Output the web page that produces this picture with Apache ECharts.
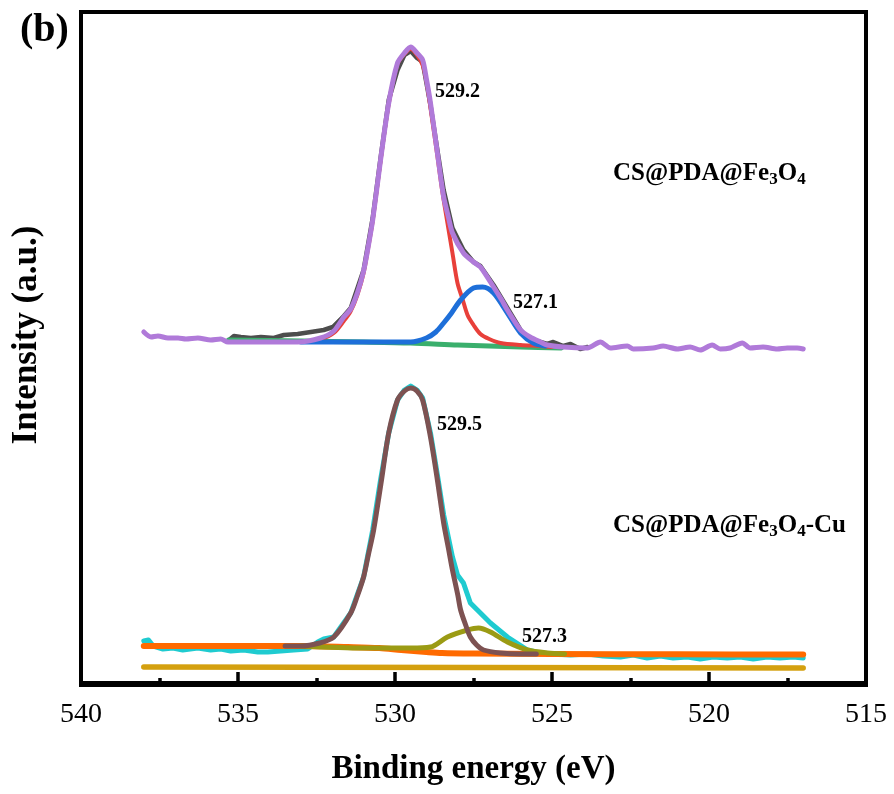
<!DOCTYPE html>
<html>
<head>
<meta charset="utf-8">
<script src="https://cdn.jsdelivr.net/npm/echarts@6/dist/echarts.min.js"></script>
<style>html,body{margin:0;padding:0;background:#fff;}#c{width:894px;height:794px;}</style>
</head>
<body>
<div id="c"></div>
<script>
// ---- Data (binding energy in eV, intensity in arbitrary units) ----
var xTicks = [540, 535, 530, 525, 520, 515];

// Upper sample: CS@PDA@Fe3O4
var topRawE = [535.32,535.13,534.91,534.59,534.27,533.86,533.54,533.1,532.68,532.27,531.98,531.63,531.41,531.0,530.71,530.46,530.2,529.92,529.7,529.5,529.3,529.12,528.87,528.65,528.45,528.17,527.82,527.5,527.28,526.86,526.42,526.0,525.78,525.59,525.37,525.15,524.96,524.64,524.41,524.1,523.87];
var topRawI = [342,347,346,345,346,345,348,349,351,353,356,367,375,413,465,525,583,613,628,632,625,621,578,533,493,455,433,421,417,398,375,353,345,343,341,339,341,337,339,334,336];

var topEnvE = [538.0,537.77,537.55,537.23,536.91,536.66,536.28,535.87,535.55,535.32,534.18,533.1,532.37,531.95,531.63,531.41,531.2,531.0,530.85,530.71,530.46,530.2,529.92,529.7,529.5,529.3,529.12,529.0,528.87,528.65,528.45,528.3,528.17,527.82,527.5,527.28,526.86,526.6,526.42,526.0,525.7,525.37,525.15,524.64,523.87,523.46,523.14,522.6,522.41,521.78,521.46,521.01,520.6,520.28,519.9,519.64,519.33,518.94,518.69,518.28,517.83,517.51,517.19,517.0];
var topEnvI = [351,346,347,345,345,344,345,343,344,341,341,341,345,352,366,374,390,412,437,463,523,580,620,630,636,630,623,604,580,530,486,466,450,430,421,416,396,383,373,353,346,341,338,336,335,341,335,337,334,335,337,334,336,333,338,334,335,340,335,336,334,335,335,334];

var topPeak1E = [535.32,533.1,532.37,531.95,531.63,531.41,531.2,531.0,530.85,530.71,530.46,530.2,529.92,529.7,529.5,529.3,529.12,529.0,528.87,528.65,528.5,528.33,528.17,528.01,527.85,527.69,527.5,527.28,527.0,526.64,526.0,525.37,525.0];
var topPeak1I = [341,341,344,350,362,372,388,410,436,462,522,579,619,629,634,628,618,602,575,527,493,460,430,400,384,368,358,349,344,340,338,337,336];

var topPeak2E = [533.0,531.0,529.5,529.0,528.7,528.45,528.2,527.91,527.5,527.21,526.86,526.42,526.0,525.59,525.2];
var topPeak2I = [341,341,341,345,351,360,370,383,395,396,390,370,350,340,337];

var topBaseE = [535.3,533.0,531.0,529.5,528.0,527.0,526.0,524.7];
var topBaseI = [343,342,341,340,338,337,336,335];

// Lower sample: CS@PDA@Fe3O4-Cu
var botRawE = [538.0,537.85,537.7,537.39,537.07,536.76,536.28,535.87,535.55,535.23,534.82,534.37,534.05,533.64,533.23,532.78,532.46,532.27,531.95,531.41,531.0,530.71,530.46,530.2,529.92,529.7,529.5,529.3,529.12,528.87,528.65,528.45,528.17,528.01,527.82,527.6,527.28,526.96,526.42,525.78,525.37,524.96,524.41,523.87,523.37,522.82,522.41,521.97,521.55,521.14,520.69,520.28,519.87,519.42,519.01,518.59,518.15,517.74,517.32,517.0];
var botRawI = [42,43,37,34,35,33,35,33,34,32,33,31,31,32,33,34,41,44,46,70,106,153,203,250,283,293,297,293,285,250,208,168,126,108,100,80,70,60,46,33,30,29,28,29,27,26,28,25,27,25,26,24,26,25,26,24,26,25,26,25];

var botPeak1E = [533.5,533.0,532.4,531.95,531.41,531.2,531.0,530.85,530.68,530.43,530.2,529.92,529.7,529.5,529.3,529.12,528.87,528.65,528.45,528.3,528.17,528.0,527.91,527.75,527.6,527.4,527.18,526.64,526.0,525.5];
var botPeak1I = [37,37,40,46,70,87,106,128,153,203,250,283,292,295,292,283,246,203,160,135,113,88,73,58,46,38,33,30,29,29];

var botPeak2E = [533.0,531.0,529.5,528.87,528.33,527.69,527.34,526.96,526.42,525.78,525.15,524.6];
var botPeak2I = [37,35,35,36,46,53,55,51,41,33,30,29];

var botBaseE = [538.0,533.0,531.5,530.5,529.8,529.0,528.5,527.5,525.0,521.0,517.0];
var botBaseI = [37,37,36,35,33,31,30,29.5,29,28.7,28.5];

var floorE = [538.0, 517.0];
var floorI = [16, 15];

// ---- Chart ----
function zip(a, b) { return a.map(function (v, i) { return [v, b[i]]; }); }
var serif = 'Liberation Serif, Times New Roman, serif';

function line(name, e, i, color, width, smooth, z) {
  return {
    name: name, type: 'line', data: zip(e, i), showSymbol: false, symbol: 'none',
    smooth: smooth, z: z, lineStyle: { color: color, width: width, cap: 'round', join: 'round' },
    animation: false, silent: true
  };
}

var chart = echarts.init(document.getElementById('c'), null, { renderer: 'canvas' });
chart.setOption({
  backgroundColor: '#fff',
  animation: false,
  grid: { left: 81, right: 28, top: 12, bottom: 109, show: true, borderColor: '#000', borderWidth: 4, backgroundColor: 'transparent' },
  xAxis: {
    type: 'value', min: 515, max: 540, interval: 5, inverse: true,
    axisLine: { show: true, lineStyle: { color: '#000', width: 4 } },
    axisTick: { show: true, inside: true, length: 11, lineStyle: { color: '#000', width: 3.5 } },
    minorTick: { show: true, splitNumber: 2, length: 5, lineStyle: { color: '#000', width: 3.5 } },
    splitLine: { show: false },
    axisLabel: { color: '#000', fontFamily: serif, fontSize: 28, margin: 16,
      formatter: function (v) { return xTicks.indexOf(v) >= 0 ? String(v) : ''; } },
    name: 'Binding energy (eV)', nameLocation: 'middle', nameGap: 68,
    nameTextStyle: { color: '#000', fontFamily: serif, fontSize: 33, fontWeight: 'bold' }
  },
  yAxis: {
    type: 'value', min: -2, max: 671,
    axisLine: { show: true, lineStyle: { color: '#000', width: 4 } },
    axisTick: { show: false }, axisLabel: { show: false }, splitLine: { show: false }
  },
  series: [
    line('raw1', topRawE, topRawI, '#4d4d4d', 4.5, false, 2),
    line('base1', topBaseE, topBaseI, '#3aaf6c', 5, 0.3, 3),
    line('peak529.2', topPeak1E, topPeak1I, '#e8403a', 4, 0.3, 4),
    line('peak527.1', topPeak2E, topPeak2I, '#1e6fd9', 5, 0.3, 5),
    line('env1', topEnvE, topEnvI, '#b07ad9', 5, 0.25, 6),
    line('raw2', botRawE, botRawI, '#1fcbd0', 5, false, 2),
    line('base2', botBaseE, botBaseI, '#ff6a00', 6, 0.3, 4),
    line('peak527.3', botPeak2E, botPeak2I, '#9b9b14', 5, 0.3, 5),
    line('peak529.5', botPeak1E, botPeak1I, '#7d5252', 5, 0.3, 6),
    line('floor', floorE, floorI, '#d4a00f', 5.5, false, 3)
  ],
  graphic: [
    { type: 'text', x: 20, y: 31, style: { text: '(b)', font: 'bold 40px ' + serif, fill: '#000', verticalAlign: 'middle', align: 'left' } },
    { type: 'text', x: 27, y: 335, rotation: Math.PI / 2, style: { text: 'Intensity (a.u.)', font: 'bold 35px ' + serif, fill: '#000', align: 'center', verticalAlign: 'middle' } },
    { type: 'text', x: 435, y: 92, style: { text: '529.2', font: 'bold 20px ' + serif, fill: '#000', verticalAlign: 'middle' } },
    { type: 'text', x: 513, y: 303, style: { text: '527.1', font: 'bold 20px ' + serif, fill: '#000', verticalAlign: 'middle' } },
    { type: 'text', x: 437, y: 425, style: { text: '529.5', font: 'bold 20px ' + serif, fill: '#000', verticalAlign: 'middle' } },
    { type: 'text', x: 522, y: 637, style: { text: '527.3', font: 'bold 20px ' + serif, fill: '#000', verticalAlign: 'middle' } },
    { type: 'text', x: 613, y: 174, style: {
        text: '{a|CS@PDA@Fe}{s|3}{a|O}{s|4}', verticalAlign: 'middle', align: 'left',
        rich: { a: { fontFamily: serif, fontWeight: 'bold', fontSize: 25, fill: '#000', color: '#000', lineHeight: 30 },
                s: { fontFamily: serif, fontWeight: 'bold', fontSize: 17, fill: '#000', color: '#000', lineHeight: 30, padding: [12, 0, 0, 0] } } } },
    { type: 'text', x: 613, y: 526, style: {
        text: '{a|CS@PDA@Fe}{s|3}{a|O}{s|4}{a|-Cu}', verticalAlign: 'middle', align: 'left',
        rich: { a: { fontFamily: serif, fontWeight: 'bold', fontSize: 25, fill: '#000', color: '#000', lineHeight: 30 },
                s: { fontFamily: serif, fontWeight: 'bold', fontSize: 17, fill: '#000', color: '#000', lineHeight: 30, padding: [12, 0, 0, 0] } } } }
  ]
});
</script>
</body>
</html>
